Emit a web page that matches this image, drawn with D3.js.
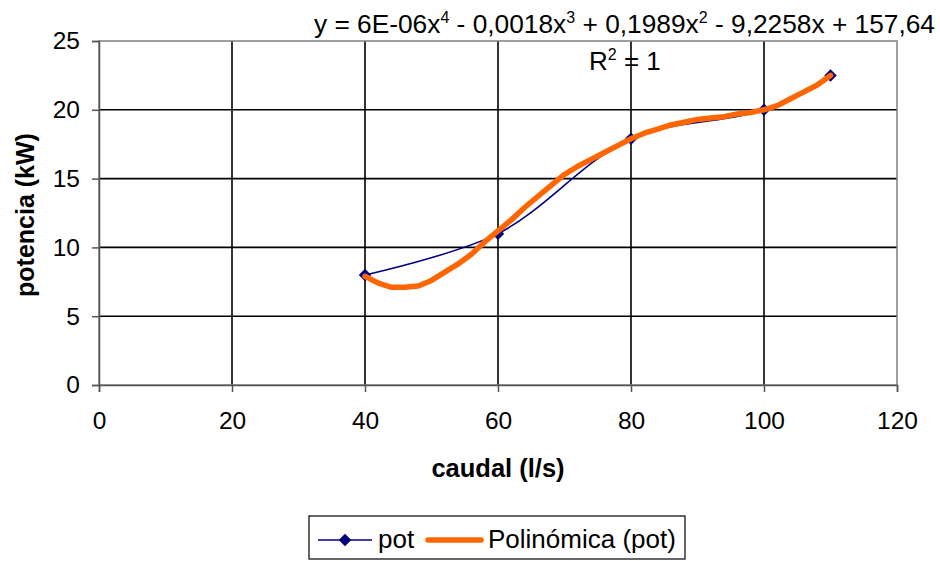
<!DOCTYPE html>
<html><head><meta charset="utf-8">
<script src="https://cdn.jsdelivr.net/npm/d3@7"></script>
<style>body{margin:0;background:#fff}svg{display:block}text{font-family:Arial,"Liberation Sans",sans-serif}</style>
</head><body>
<svg id="c" width="940" height="561"></svg>
<script>
const caudal = [40, 60, 80, 100, 110];
const pot = [8, 11, 17.9, 20, 22.5];
const trendX = [40,42,44,46,48,50,52,54,56,58,60,62,64,66,68,70,72,74,76,78,80,82,84,86,88,90,92,94,96,98,100,102,104,106,108,110];
const trendY = [7.9,7.4,7.1,7.1,7.2,7.6,8.2,8.8,9.5,10.4,11.2,12.0,12.9,13.7,14.5,15.3,15.9,16.4,16.9,17.4,17.9,18.3,18.6,18.9,19.1,19.3,19.4,19.5,19.7,19.8,20.0,20.3,20.8,21.3,21.8,22.5];
const xTicks = [0,20,40,60,80,100,120];
const yTicks = [0,5,10,15,20,25];

const svg = d3.select("#c");
const L=99, R=897, T=41, B=385;
const x = d3.scaleLinear().domain([0,120]).range([L,R]);
const y = d3.scaleLinear().domain([0,25]).range([B,T]);

svg.append("g").selectAll("line").data(yTicks.filter(d=>d>0&&d<25)).join("line")
  .attr("x1",L).attr("x2",R).attr("y1",d=>y(d)).attr("y2",d=>y(d))
  .attr("stroke","#000").attr("stroke-width",1.6);
svg.append("g").selectAll("line").data(xTicks.filter(d=>d>0&&d<120)).join("line")
  .attr("y1",T).attr("y2",B).attr("x1",d=>x(d)).attr("x2",d=>x(d))
  .attr("stroke","#000").attr("stroke-width",1.6);
svg.append("rect").attr("x",L).attr("y",T).attr("width",R-L).attr("height",B-T)
  .attr("fill","none").attr("stroke","#808080").attr("stroke-width",1.5);

const fs = 24.5;
const xa = svg.append("g").attr("transform",`translate(0,${B})`)
  .call(d3.axisBottom(x).tickValues(xTicks).tickSize(7).tickPadding(20));
const ya = svg.append("g").attr("transform",`translate(${L},0)`)
  .call(d3.axisLeft(y).tickValues(yTicks).tickSize(7).tickPadding(12));
[xa,ya].forEach(a=>{
  a.select(".domain").attr("stroke","#555").attr("stroke-width",1.5);
  a.selectAll(".tick line").attr("stroke","#555").attr("stroke-width",1.5);
  a.selectAll(".tick text").attr("font-size",fs).attr("font-family","Arial, 'Liberation Sans', sans-serif").attr("fill","#000");
});

const pts = caudal.map((d,i)=>[d,pot[i]]);
svg.append("path").datum(pts)
  .attr("d",d3.line().x(d=>x(d[0])).y(d=>y(d[1])).curve(d3.curveCatmullRom.alpha(0.5)))
  .attr("fill","none").attr("stroke","#000080").attr("stroke-width",1.6);
const diamond = d3.symbol().type(d3.symbolDiamond2).size(100);
svg.append("g").selectAll("path").data(pts).join("path")
  .attr("d",diamond).attr("transform",d=>`translate(${x(d[0])},${y(d[1])})`)
  .attr("fill","#000080");
svg.append("path").datum(trendX.map((d,i)=>[d,trendY[i]]))
  .attr("d",d3.line().x(d=>x(d[0])).y(d=>y(d[1])))
  .attr("fill","none").attr("stroke","#FF6600").attr("stroke-width",5.5).attr("stroke-linejoin","round").attr("stroke-linecap","round");

const eq = svg.append("text").attr("x",935).attr("y",33).attr("text-anchor","end").attr("font-size",26.3);
const parts = [["y = 6E-06x",0],["4",1],[" - 0,0018x",0],["3",1],[" + 0,1989x",0],["2",1],[" - 9,2258x + 157,64",0]];
parts.forEach((p,i)=>{
  const t = eq.append("tspan").text(p[0]);
  if(p[1]) t.attr("font-size",16).attr("dy",-10);
  else if(i>0) t.attr("dy",10);
});
const r2 = svg.append("text").attr("x",589).attr("y",70).attr("font-size",26);
r2.append("tspan").text("R");
r2.append("tspan").text("2").attr("font-size",16).attr("dy",-10);
r2.append("tspan").text(" = 1").attr("dy",10);

svg.append("text").attr("x",498).attr("y",477).attr("text-anchor","middle")
  .attr("font-size",25.5).attr("font-weight","bold").text("caudal (l/s)");
svg.append("text").attr("transform","translate(34,215) rotate(-90)").attr("text-anchor","middle")
  .attr("font-size",25).attr("font-weight","bold").text("potencia (kW)");

svg.append("rect").attr("x",309).attr("y",516).attr("width",376).attr("height",43)
  .attr("fill","#fff").attr("stroke","#000").attr("stroke-width",1.2);
svg.append("line").attr("x1",318).attr("x2",372).attr("y1",540).attr("y2",540).attr("stroke","#000080").attr("stroke-width",1.6);
svg.append("path").attr("d",diamond).attr("transform","translate(345,540)").attr("fill","#000080");
svg.append("text").attr("x",378).attr("y",548).attr("font-size",26).text("pot");
svg.append("line").attr("x1",428).attr("x2",481).attr("y1",540).attr("y2",540).attr("stroke","#FF6600").attr("stroke-width",5.5).attr("stroke-linecap","round");
svg.append("text").attr("x",488).attr("y",548).attr("font-size",26).text("Polinómica (pot)");
</script>
</body></html>
